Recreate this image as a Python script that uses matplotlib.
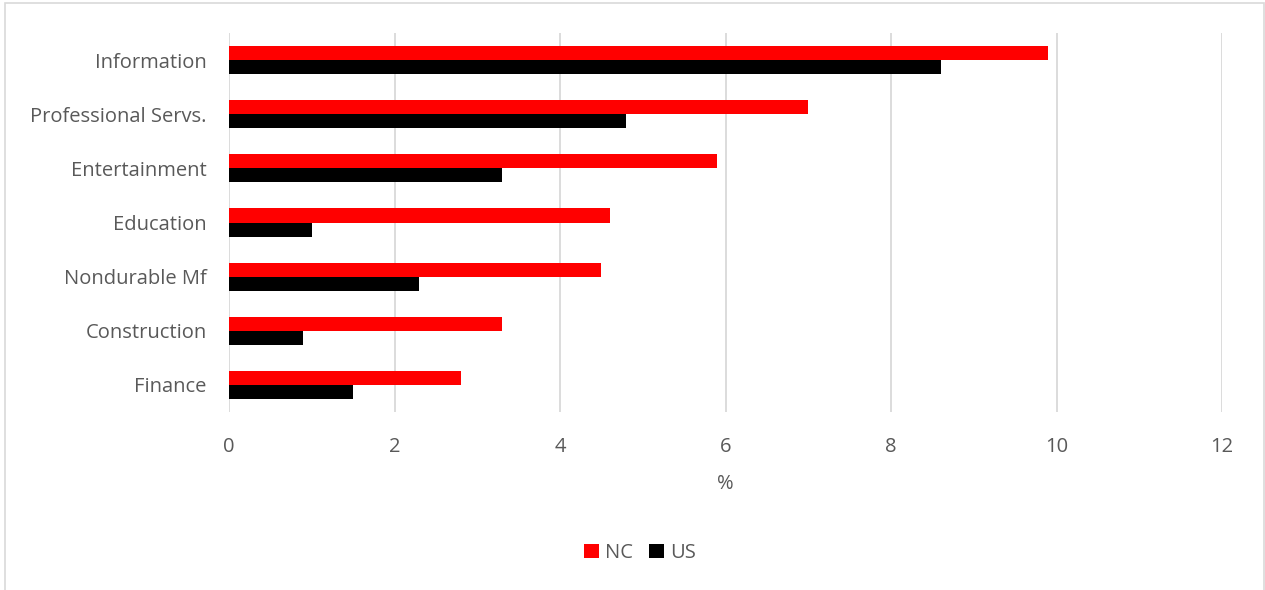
import numpy as np
import matplotlib.pyplot as plt
from matplotlib.patches import Rectangle

### Data
categories = ['Information', 'Professional Servs.', 'Entertainment', 'Education',
              'Nondurable Mf', 'Construction', 'Finance']
nc = [9.9, 7.0, 5.9, 4.6, 4.5, 3.3, 2.8]
us = [8.6, 4.8, 3.3, 1.0, 2.3, 0.9, 1.5]
xticks = [0, 2, 4, 6, 8, 10, 12]

plt.rcParams['font.family'] = ['Open Sans', 'DejaVu Sans']
txt = '#595959'
fs = 14.5

fig = plt.figure(figsize=(12.65, 5.9), dpi=100)
ax = fig.add_axes([229 / 1265, 1 - 412 / 590, (1222 - 229) / 1265, (412 - 33) / 590])

# chart border
fig.patches.append(Rectangle((5 / 1265, -0.1), 1259 / 1265, 1.1 - 3 / 590,
                             transform=fig.transFigure, fill=False,
                             edgecolor='#d9d9d9', lw=1.2))

y = np.arange(len(categories))
h = 0.26
ax.barh(y - h / 2, nc, height=h, color='#ff0000', label='NC', zorder=3)
ax.barh(y + h / 2, us, height=h, color='#000000', label='US', zorder=3)

ax.set_ylim(len(categories) - 0.5, -0.5)
ax.set_yticks(y)
ax.set_yticklabels(categories, fontsize=fs, color=txt)
ax.set_xlim(0, 12)
ax.set_xticks(xticks)
ax.set_xticklabels([str(t) for t in xticks], fontsize=fs, color=txt)
ax.tick_params(length=0)
ax.tick_params(axis='x', pad=18)
ax.tick_params(axis='y', pad=16)

ax.grid(axis='x', color='#d9d9d9', lw=1.3, zorder=0)
for s in ax.spines.values():
    s.set_visible(False)

ax.set_xlabel('%', fontsize=fs, color=txt, labelpad=12)

leg = fig.legend(loc='center', bbox_to_anchor=(640 / 1265, 1 - 553 / 590), ncol=2,
                 frameon=False, fontsize=fs, handlelength=0.75, handleheight=0.75,
                 handletextpad=0.3, columnspacing=0.8)
for t in leg.get_texts():
    t.set_color(txt)

fig.savefig('out.png', dpi=100)
